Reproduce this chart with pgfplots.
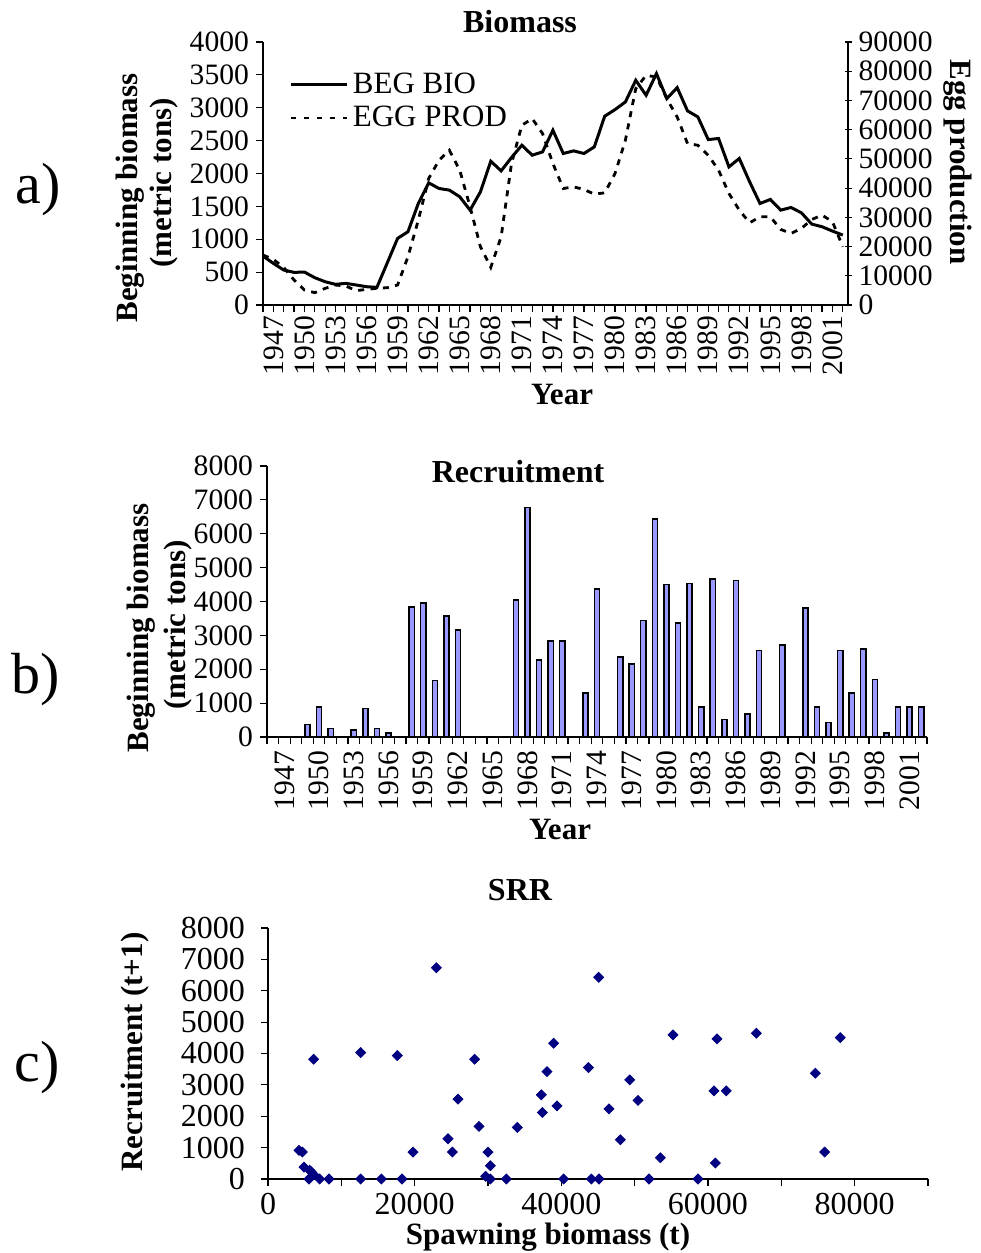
\documentclass[border=0pt]{standalone}
\usepackage{fontspec}
\setmainfont{Liberation Serif}
\usepackage{pgfplots}
\pgfplotsset{compat=1.18}
\definecolor{barblue}{RGB}{153,153,255}
\definecolor{navy}{RGB}{0,0,128}
\newcommand{\tickfont}{\fontsize{14.8}{17}\selectfont}
\newcommand{\labfont}{\fontsize{15.5}{18}\selectfont\bfseries}
\newcommand{\titfont}{\fontsize{16}{19}\selectfont\bfseries}

\begin{document}
\begin{tikzpicture}
\useasboundingbox (0,0) rectangle (490pt,626.5pt);
\pgfplotsset{
  every axis/.append style={
    scale only axis, anchor=south west,
    tick label style={font=\tickfont},
    /pgf/number format/assume math mode=true,
    /pgf/number format/1000 sep={},
    scaled ticks=false,
    tick style={black, line width=0.6pt},
    axis line style={black, line width=0.7pt},
    x axis line style={-}, y axis line style={-},
    tick align=outside,
    major tick length=3.5pt, minor tick length=3.5pt,
  },
}

% ---------------- a) Biomass ----------------
\begin{axis}[
  at={(131.5pt,474pt)}, width=292.5pt, height=131.5pt,
  xmin=1946, xmax=2002.5, ymin=0, ymax=4000,
  axis x line*=bottom, axis y line*=left,
  xtick={1947,1950,...,2001}, minor xtick={1946,...,2002},
  xticklabel style={rotate=90, anchor=east, xshift=1.5pt},
  ytick={0,500,...,4000},
  legend style={at={(axis description cs:0.035,0.915)}, anchor=north west,
    draw=none, fill=none, font=\fontsize{15.5}{18}\selectfont, row sep=1pt},
  legend cell align=left,
  legend image code/.code={\draw[#1] (0pt,0pt) -- (28pt,0pt);},
]
\addplot[black, line width=1.5pt] coordinates {
(1946,744) (1947,633) (1948,532) (1949,496) (1950,501) (1951,415) (1952,354)
(1953,314) (1954,329) (1955,304) (1956,278) (1957,268) (1958,640) (1959,1013)
(1960,1114) (1961,1544) (1962,1858) (1963,1772) (1964,1747) (1965,1646) (1966,1443)
(1967,1721) (1968,2187) (1969,2040) (1970,2243) (1971,2430) (1972,2278) (1973,2329)
(1974,2658) (1975,2304) (1976,2344) (1977,2304) (1978,2405) (1979,2871) (1980,2972)
(1981,3088) (1982,3418) (1983,3190) (1984,3519) (1985,3139) (1986,3306) (1987,2952)
(1988,2861) (1989,2516) (1990,2532) (1991,2101) (1992,2228) (1993,1873) (1994,1544)
(1995,1605) (1996,1443) (1997,1483) (1998,1402) (1999,1230) (2000,1190) (2001,1124)
(2002,1063)
};
\addlegendentry{BEG BIO}
\addlegendimage{black, line width=1.4pt, dash pattern=on 2.5pt off 4pt}
\addlegendentry{EGG PROD}
\end{axis}

\begin{axis}[
  at={(131.5pt,474pt)}, width=292.5pt, height=131.5pt,
  xmin=1946, xmax=2002.5, ymin=0, ymax=90000,
  axis x line=none, axis y line*=right,
  ytick={0,10000,...,90000}, ytick align=center,
  yticklabel style={anchor=west},
]
\addplot[black, line width=1.4pt, dash pattern=on 3pt off 3.2pt] coordinates {
(1946,17085) (1947,15600) (1948,12870) (1949,8540) (1950,5126) (1951,4214) (1952,5695)
(1953,6834) (1954,6490) (1955,4900) (1956,5350) (1957,5695) (1958,5920) (1959,6834)
(1960,16515) (1961,29045) (1962,43280) (1963,49550) (1964,52960) (1965,46130) (1966,33600)
(1967,19930) (1968,12870) (1969,23350) (1970,48400) (1971,61500) (1972,63780) (1973,58660)
(1974,48400) (1975,39865) (1976,40435) (1977,39523) (1978,37929) (1979,38384) (1980,44990)
(1981,56380) (1982,74035) (1983,78590) (1984,78020) (1985,70620) (1986,64350) (1987,55240)
(1988,54670) (1989,51250) (1990,46130) (1991,38160) (1992,32460) (1993,28130) (1994,30180)
(1995,30180) (1996,25855) (1997,24490) (1998,26200) (1999,29270) (2000,30750) (2001,28475)
(2002,19930)
};
\end{axis}

\node at (19pt,531.5pt) {\fontsize{29}{32}\selectfont a)};
\node at (260pt,615.5pt) {\titfont Biomass};
\node[rotate=90] at (65pt,527.5pt) {\labfont Beginning biomass};
\node[rotate=90] at (82pt,535pt) {\labfont (metric tons)};
\node[rotate=-90] at (479pt,545.5pt) {\labfont Egg production};
\node at (281pt,429pt) {\labfont Year};

% ---------------- b) Recruitment ----------------
\begin{axis}[
  at={(133.5pt,258pt)}, width=330pt, height=135.5pt,
  xmin=1945.5, xmax=2002.5, ymin=0, ymax=8000,
  axis x line*=bottom, axis y line*=left,
  ybar, bar width=2.6pt,
  xtick={1947,1950,...,2001}, minor xtick={1945.5,1946.5,...,2002.5},
  major x tick style={draw=none},
  xticklabel style={rotate=90, anchor=east},
  ytick={0,1000,...,8000},
]
\addplot[fill=barblue, draw=black, line width=0.75pt] coordinates {
(1949,370) (1950,890) (1951,250) (1953,200) (1954,840) (1955,250) (1956,120)
(1958,3840) (1959,3960) (1960,1665) (1961,3567) (1962,3153)
(1967,4050) (1968,6770) (1969,2270) (1970,2840) (1971,2840) (1973,1300) (1974,4374)
(1976,2355) (1977,2148) (1978,3438) (1979,6433) (1980,4502) (1981,3369) (1982,4532)
(1983,887) (1984,4660) (1985,522) (1986,4621) (1987,680) (1988,2552) (1990,2709)
(1992,3813) (1993,887) (1994,433) (1995,2552) (1996,1300) (1997,2591) (1998,1704)
(1999,118) (2000,887) (2001,887) (2002,887)
};
\end{axis}

\node at (18pt,286.5pt) {\fontsize{29}{32}\selectfont b)};
\node at (259pt,390.5pt) {\titfont Recruitment};
\node[rotate=90] at (70.5pt,312.5pt) {\labfont Beginning biomass};
\node[rotate=90] at (89pt,314pt) {\labfont (metric tons)};
\node at (280pt,211.5pt) {\labfont Year};

% ---------------- c) SRR ----------------
\begin{axis}[
  at={(134pt,37pt)}, width=330pt, height=125.5pt,
  xmin=0, xmax=90000, ymin=0, ymax=8000,
  axis x line*=bottom, axis y line*=left,
  tick label style={font=\fontsize{16}{18}\selectfont},
  xtick={0,20000,...,80000}, minor xtick={10000,30000,...,90000},
  yticklabel style={xshift=-4.5pt},
  ytick={0,1000,...,8000},
  clip=false,
]
\addplot[only marks, mark=square*, mark size=1.75pt,
  mark options={rotate=45, fill=navy, draw=navy}] coordinates {
(4227,912) (4682,859) (4909,382) (5682,276) (5909,223) (5591,0) (6227,138)
(6227,3818) (7045,0) (8318,0) (12636,4030) (12636,0) (15455,0) (17636,3934)
(18273,0) (19773,859) (22955,6734) (24545,1283) (25136,859) (25909,2545)
(28182,3818) (28773,1675) (29682,85) (30000,859) (30318,424) (30318,0)
(32500,0) (34000,1644) (37273,2683) (37409,2121) (38045,3425) (38955,4327)
(39409,2333) (40318,0) (43700,3553) (44091,0) (45100,6430) (45136,0)
(46500,2238) (48045,1251) (49318,3160) (50455,2503) (51955,0) (53500,679)
(55227,4592) (58636,0) (60818,2810) (61000,509) (61227,4464) (62500,2810)
(66591,4645) (74636,3372) (75909,859) (78045,4507)
};
\end{axis}

\node at (18.5pt,92.5pt) {\fontsize{29}{32}\selectfont c)};
\node at (260pt,181.5pt) {\titfont SRR};
\node[rotate=90] at (67.5pt,100.5pt) {\labfont Recruitment (t+1)};
\node at (274pt,8pt) {\labfont Spawning biomass (t)};
\end{tikzpicture}
\end{document}
